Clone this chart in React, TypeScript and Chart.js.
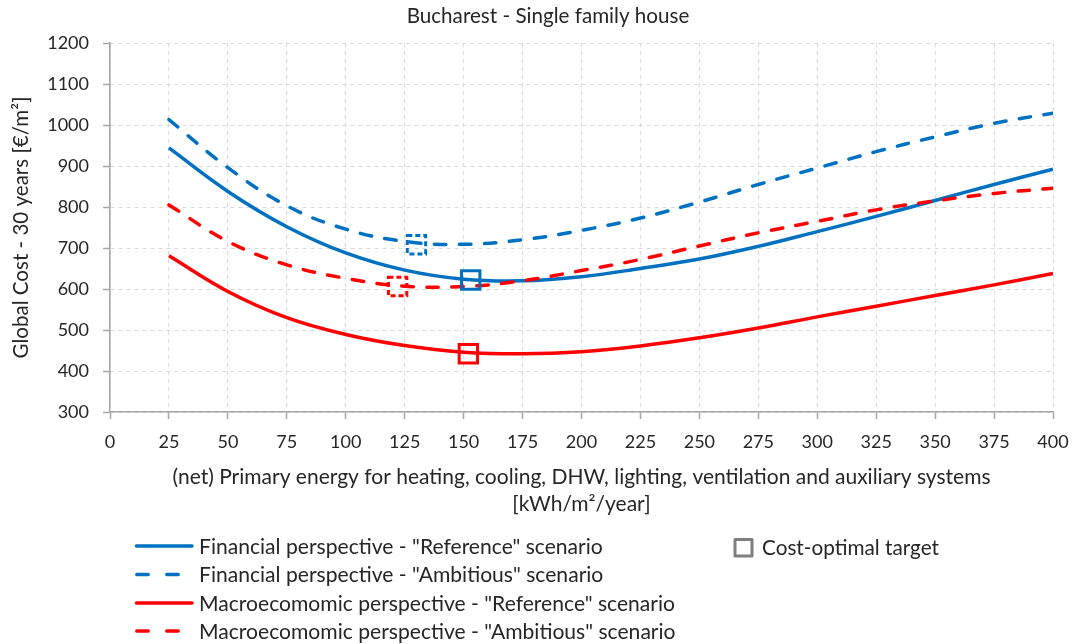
import React, { useEffect, useRef } from "react";
import { Chart, registerables } from "chart.js";

Chart.register(...registerables);

// ---- Data ----
const chartTitle = "Bucharest - Single family house";
const yAxisTitle = "Global Cost - 30 years [€/m²]";
const xAxisTitle = [
  "(net) Primary energy for heating, cooling, DHW, lighting, ventilation and auxiliary systems",
  "[kWh/m²/year]",
];

const energy = [25, 50, 75, 100, 125, 150, 175, 200, 225, 250, 275, 300, 325, 350, 375, 400];

const financialReference = [944, 838, 752, 688, 646, 624, 620, 630, 650, 673, 704, 740, 777, 816, 855, 892];
const financialAmbitious = [1013, 896, 803, 746, 716, 709, 720, 743, 773, 812, 855, 895, 935, 971, 1004, 1029];
const macroReference = [681, 594, 530, 489, 462, 446, 442, 447, 461, 481, 505, 532, 558, 584, 610, 638];
const macroAmbitious = [805, 716, 659, 626, 607, 606, 620, 645, 672, 705, 737, 765, 793, 815, 833, 846];

const seriesLabels = [
  'Financial perspective - "Reference" scenario',
  'Financial perspective - "Ambitious" scenario',
  'Macroecomomic perspective - "Reference" scenario',
  'Macroecomomic perspective - "Ambitious" scenario',
];
const markerLabel = "Cost-optimal target";

// cost-optimal targets (same order as series)
const optimalEnergy = [153, 130, 152, 122];
const optimalCost = [622, 708, 442, 606];

const xTicksMin = 0;
const xTicksMax = 400;
const xStep = 25;
const yTicksMin = 300;
const yTicksMax = 1200;
const yStep = 100;

// ---- Styles ----
const BLUE = "#0070C0";
const RED = "#FF0000";
const seriesColors = [BLUE, BLUE, RED, RED];
const seriesDashed = [false, true, false, true];
const FONT = "Lato";
const TEXT = "#262626";

function fitSize(ctx: CanvasRenderingContext2D, text: string, target: number) {
  ctx.font = `20px ${FONT}`;
  const w = ctx.measureText(text).width;
  return (20 * target) / w;
}

const textPlugin = {
  id: "customTexts",
  beforeDatasetDraw(chart: any, args: any) {
    const ds = chart.data.datasets[args.index];
    if (ds && ds._markerDashed) {
      chart.ctx.save();
      chart.ctx.setLineDash([5, 3]);
    }
  },
  afterDatasetDraw(chart: any, args: any) {
    const ds = chart.data.datasets[args.index];
    if (ds && ds._markerDashed) {
      chart.ctx.restore();
    }
  },
  afterDraw(chart: any) {
    const ctx: CanvasRenderingContext2D = chart.ctx;
    const area = chart.chartArea;
    ctx.save();
    ctx.fillStyle = TEXT;
    ctx.textBaseline = "alphabetic";

    // Title
    let s = fitSize(ctx, chartTitle, 283);
    ctx.font = `${s}px ${FONT}`;
    ctx.textAlign = "center";
    ctx.fillText(chartTitle, 548, 16 + 0.36 * s);

    // X title
    const cx = (area.left + area.right) / 2;
    s = fitSize(ctx, xAxisTitle[0], 818);
    ctx.font = `${s}px ${FONT}`;
    ctx.fillText(xAxisTitle[0], cx, 476 + 0.36 * s);
    ctx.fillText(xAxisTitle[1], cx, 503 + 0.36 * s);

    // Y title
    s = fitSize(ctx, yAxisTitle, 262);
    ctx.save();
    ctx.translate(20.5 + 0.36 * s, (area.top + area.bottom) / 2);
    ctx.rotate(-Math.PI / 2);
    ctx.font = `${s}px ${FONT}`;
    ctx.fillText(yAxisTitle, 0, 0);
    ctx.restore();

    // Legend
    const rows = [546, 574.5, 603, 631];
    const ls = fitSize(ctx, seriesLabels[0], 404);
    ctx.textAlign = "left";
    rows.forEach((y, i) => {
      ctx.strokeStyle = seriesColors[i];
      ctx.lineWidth = 3.5;
      ctx.lineCap = "round";
      ctx.beginPath();
      if (seriesDashed[i]) {
        ctx.moveTo(136.8, y);
        ctx.lineTo(148.2, y);
        ctx.moveTo(166.8, y);
        ctx.lineTo(178.2, y);
      } else {
        ctx.moveTo(136.5, y);
        ctx.lineTo(192, y);
      }
      ctx.stroke();
      ctx.font = `${ls}px ${FONT}`;
      ctx.fillStyle = TEXT;
      ctx.fillText(seriesLabels[i], 199, y + 0.36 * ls);
    });
    // marker legend
    ctx.strokeStyle = "#7F7F7F";
    ctx.lineWidth = 3;
    ctx.lineJoin = "round";
    ctx.strokeRect(735, 539.5, 17, 16.5);
    const ms = fitSize(ctx, markerLabel, 177);
    ctx.font = `${ms}px ${FONT}`;
    ctx.fillText(markerLabel, 762, 547.5 + 0.36 * ms);

    ctx.restore();
  },
};

export default function App() {
  const ref = useRef<HTMLCanvasElement | null>(null);

  useEffect(() => {
    if (!ref.current) return;
    const lineOrder = [4, 3, 2, 1];
    const seriesData = [financialReference, financialAmbitious, macroReference, macroAmbitious];
    const lineSets = seriesData.map((arr, i) => ({
      label: seriesLabels[i],
      data: energy.map((x, j) => ({ x, y: arr[j] })),
      borderColor: seriesColors[i],
      backgroundColor: seriesColors[i],
      borderWidth: 3.5,
      borderDash: seriesDashed[i] ? [11.5, 13.5] : [],
      borderCapStyle: seriesDashed[i] ? "round" : "butt",
      borderJoinStyle: "round",
      tension: 0.4,
      pointRadius: 0,
      fill: false,
      order: lineOrder[i],
    }));
    const markerSets = optimalEnergy.map((x, i) => ({
      label: markerLabel + " " + i,
      data: [{ x, y: optimalCost[i] }],
      showLine: false,
      pointStyle: "rect",
      pointRadius: 13,
      pointBorderWidth: 3,
      pointBorderColor: seriesColors[i],
      pointBackgroundColor: "rgba(0,0,0,0)",
      borderColor: seriesColors[i],
      order: 0,
      _markerDashed: seriesDashed[i],
    }));

    const chart = new Chart(ref.current, {
      type: "line",
      data: { datasets: [...lineSets, ...markerSets] as any },
      options: {
        animation: false,
        responsive: false,
        events: [],
        layout: { padding: { top: 43, left: 0, right: 23, bottom: 192 } },
        plugins: {
          legend: { display: false },
          title: { display: false },
          tooltip: { enabled: false },
        },
        scales: {
          x: {
            type: "linear",
            min: xTicksMin,
            max: xTicksMax,
            afterFit: (scale: any) => {
              scale.height = 40;
              scale.paddingLeft = 0;
              scale.paddingRight = 0;
            },
            ticks: {
              stepSize: xStep,
              padding: 12,
              color: TEXT,
              font: { family: FONT, size: 18 },
              maxRotation: 0,
              callback: (v: any) => String(v),
            },
            grid: {
              color: "#D9D9D9",
              lineWidth: 1,
              drawTicks: true,
              tickLength: 7,
              tickColor: "#A6A6A6",
              tickWidth: 1.5,
              tickBorderDash: [],
            },
            border: { display: true, color: "#A6A6A6", width: 1.5, dash: [4, 4] },
          },
          y: {
            type: "linear",
            min: yTicksMin,
            max: yTicksMax,
            afterFit: (scale: any) => {
              scale.width = 110;
              scale.paddingTop = 0;
              scale.paddingBottom = 0;
            },
            ticks: {
              stepSize: yStep,
              padding: 14,
              color: TEXT,
              font: { family: FONT, size: 18 },
              callback: (v: any) => String(v),
            },
            grid: {
              color: "#D9D9D9",
              lineWidth: 1,
              drawTicks: true,
              tickLength: 7,
              tickColor: "#A6A6A6",
              tickWidth: 1.5,
              tickBorderDash: [],
            },
            border: { display: true, color: "#A6A6A6", width: 1.5, dash: [4, 4] },
          },
        },
      } as any,
      plugins: [textPlugin],
    });
    return () => chart.destroy();
  }, []);

  return (
    <div style={{ position: "fixed", left: 0, top: 0, width: 1076, height: 644, background: "#fff" }}>
      <canvas ref={ref} width={1076} height={644} style={{ display: "block" }} />
    </div>
  );
}
